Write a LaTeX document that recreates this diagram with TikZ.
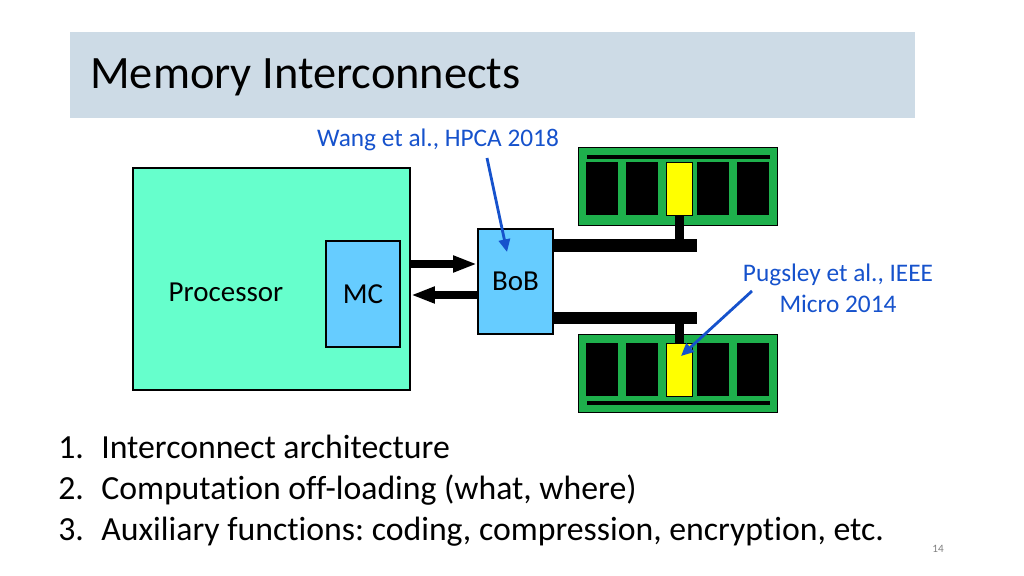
\documentclass[tikz,border=0pt]{standalone}
\usepackage{fontspec}
\setmainfont[Ligatures=NoCommon]{Carlito}
\usepackage{tikz}
\usetikzlibrary{arrows.meta}
\frenchspacing

\definecolor{titleband}{RGB}{205,219,230}
\definecolor{cpugreen}{RGB}{102,255,204}
\definecolor{boxblue}{RGB}{102,204,255}
\definecolor{dimmgreen}{RGB}{30,176,76}
\definecolor{chipyellow}{RGB}{255,255,0}
\definecolor{refblue}{RGB}{22,82,204}

\newcommand{\pxu}{0.025cm}

\begin{document}
\begin{tikzpicture}[x=0.025cm, y=-0.025cm,
 box/.style={draw, line width=1.4pt, inner sep=0pt, font=\fontsize{20.6}{24}\selectfont},
 labeltext/.style={font=\fontsize{20.6}{24}\selectfont},
 reftext/.style={text=refblue, font=\fontsize{18}{22}\selectfont},
 listtext/.style={anchor=base west, font=\fontsize{24}{29}\selectfont},
 bus/.style={line width=9.2pt},
 stub/.style={line width=6.4pt},
 fatarrow/.style={line width=5pt, -{Triangle[length=17pt, width=11pt]}},
 refarrow/.style={refblue, line width=2pt, -{Triangle[length=9pt, width=8pt]}}]
\useasboundingbox (0,0) rectangle (1024,576);

\fill[titleband] (70,32) rectangle (915,118);
\node[anchor=base west, inner sep=0pt, font=\fontsize{33}{40}\selectfont] (title) at (90,89) {Memory Interconnects};

\node[box, fill=cpugreen, minimum width=277*\pxu, minimum height=222*\pxu] (proc) at (271.5,279) {};
\node[labeltext] (proctext) at (226,292) {Processor};
\node[box, fill=boxblue, minimum width=74*\pxu, minimum height=106*\pxu] (mc) at (363,294) {MC};
\node[box, fill=boxblue, minimum width=75*\pxu, minimum height=105*\pxu] (bob) at (515.5,281.5) {BoB};

\coordinate (upper) at (0,264);
\coordinate (lower) at (0,295);
\draw[fatarrow] (proc.east |- upper) -- (bob.west |- upper);
\draw[fatarrow] (bob.west |- lower) -- (proc.east |- lower);

% memory modules
\foreach \t/\c/\l/\n in {147/162/157/dimmA, 334/343/403/dimmB} {
 \draw[fill=dimmgreen, line width=0.6pt] (578,\t) rectangle (777,\t+78);
 \draw[line width=2.2pt] (587,\l) -- (770,\l);
 \foreach \a/\b in {586/618, 626/658, 697/729, 737/769} {
  \fill[black] (\a,\c) rectangle (\b,\c+53);
 }
 \node[draw, fill=chipyellow, line width=0.6pt, inner sep=0pt, anchor=north west,
  minimum width=26*\pxu, minimum height=53*\pxu] (\n chip) at (666,\c) {};
}

\coordinate (busA) at (697,245.5);
\coordinate (busB) at (697,318);
\draw[stub] (dimmAchip.south) -- (dimmAchip.south |- busA);
\draw[stub] (dimmBchip.north) -- (dimmBchip.north |- busB);
\draw[bus] (bob.east |- busA) -- (busA);
\draw[bus] (bob.east |- busB) -- (busB);

\node[reftext, anchor=base] (wang) at (438,147) {Wang et al., HPCA 2018};
\coordinate (wangtail) at (487,158);
\coordinate (wangtip) at (507,252);
\draw[refarrow] (wangtail) -- (wangtip);

\node[reftext, align=center] (pugsley) at (838,288) {Pugsley et al., IEEE\\Micro 2014};
\coordinate (pugtail) at (752,291);
\coordinate (pugtip) at (681,356);
\draw[refarrow] (pugtail) -- (pugtip);

\foreach \i/\t in {1/Interconnect architecture, 2/{Computation off-loading (what, where)}, 3/{Auxiliary functions: coding, compression, encryption, etc.}} {
 \node[listtext, inner sep=0pt] (num\i) at (58,417+41*\i) {\i.};
 \node[listtext, inner sep=0pt] (item\i) at (101,417+41*\i) {\t};
}

\node[text=gray, font=\fontsize{8}{9}\selectfont] (pagenum) at (938,549) {14};
\end{tikzpicture}
\end{document}
